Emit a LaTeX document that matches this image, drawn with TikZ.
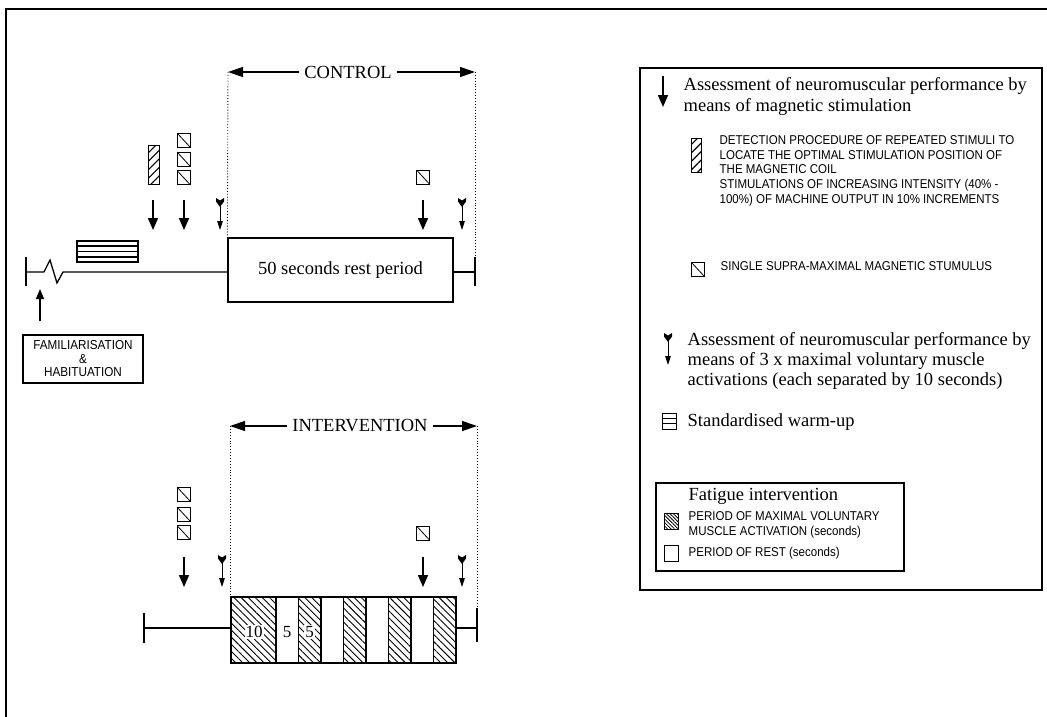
\documentclass[tikz,border=0pt]{standalone}
\usepackage{fontspec}
\setmainfont{Liberation Serif}
\setsansfont{Liberation Sans}
\newfontfamily\capsfont{Liberation Sans}[FakeStretch=0.9]
\usetikzlibrary{arrows.meta,patterns.meta,positioning}

\begin{document}
\begin{tikzpicture}[x=1pt, y=-1pt, line width=1.3pt,
  serif/.style={font=\fontsize{18.5}{21}\selectfont, inner sep=0pt},
  caps/.style={font=\capsfont\fontsize{12.8}{14.7}\selectfont, inner sep=0pt},
  magarrow/.style={line width=1.7pt, -{Triangle[width=10pt,length=12pt]}},
  vol/.pic={
    \fill (-4,0) -- (0,2.5) -- (4,0) -- (4,3.5) -- (0,9) -- (-4,3.5) -- cycle;
    \draw[line width=1pt, -{Triangle[width=5.5pt,length=9pt]}] (0,6) -- (0,32);},
  span/.style={-{Triangle[width=10pt,length=15pt]}},
  guide/.style={dotted, line width=0.9pt},
  stim/.style={draw, line width=1pt, minimum width=13pt, minimum height=14pt, inner sep=0pt,
    path picture={\draw[line width=0.8pt] (path picture bounding box.north west) -- (path picture bounding box.south east);}},
  probe/.style={draw, line width=1pt, inner sep=0pt, pattern={Lines[angle=45,distance=6pt,line width=1.1pt]}},
  work/.style={draw, pattern={Lines[angle=-45,distance=5pt,line width=0.9pt]}},
  lab/.style={fill=white, inner sep=1pt, font=\fontsize{17}{17}\selectfont}]
  \useasboundingbox (0,0) rectangle (1047,717);

  % 1. 外框 (只有上边与左边)
  \draw[line width=1.4pt] (6,717) -- (6,9) -- (1047,9);

  % 2. CONTROL 时间线
  \node[serif, inner xsep=5pt] (ctl) at (348,72) {CONTROL};
  \coordinate (ctlL) at (228,72);
  \coordinate (ctlR) at (475,72);
  \draw[span] (ctl) -- (ctlL);
  \draw[span] (ctl) -- (ctlR);
  \node[draw, serif, minimum width=225pt, minimum height=64pt] (rest) at (340.5,270) {50 seconds rest period};
  \coordinate (tA) at (26,272);
  \coordinate (tB) at (475,272);
  \draw (26,257) -- (26,286);
  \draw (475,257) -- (475,286);
  \draw (tA) -- (44,272) -- (50,260) -- (57,283) -- (63,272) -- (tA -| rest.west);
  \draw (tB -| rest.east) -- (tB);
  \draw[guide] (ctlL) -- (rest.north west);
  \draw[guide] (ctlR) -- (475,257);

  % 3. 准备活动与熟悉阶段
  \draw (77,241) rectangle (138,262);
  \foreach \y in {246,251.5,257} \draw (77,\y) -- (138,\y);
  \node[draw, minimum width=120pt, minimum height=48pt, align=center, inner sep=0pt,
        font=\capsfont\fontsize{13}{13.5}\selectfont] (fam) at (83,359) {FAMILIARISATION\\\&\\HABITUATION};
  \coordinate (famtail) at (40,321);
  \draw[-{Triangle[width=8pt,length=10pt]}] (famtail) -- (40,289);

  % 4. 刺激符号与箭头 (CONTROL)
  \node[probe, minimum width=11pt, minimum height=39pt] (pr) at (153.5,164.5) {};
  \foreach \y [count=\i] in {140,159,177.5} \node[stim] (cs\i) at (183.5,\y) {};
  \node[stim] (cs4) at (423,177) {};
  \foreach \x in {153,184,423} \draw[magarrow] (\x,200) -- (\x,230);
  \foreach \x in {220,462} \pic at (\x,198) {vol};

  % 5. INTERVENTION 时间线
  \node[serif, inner xsep=5pt] (itv) at (360,426) {INTERVENTION};
  \coordinate (itvL) at (230,426);
  \coordinate (itvR) at (477,426);
  \draw[span] (itv) -- (itvL);
  \draw[span] (itv) -- (itvR);
  \draw (144,613) -- (144,643);
  \draw (477,608) -- (477,642);
  \draw (144,628) -- (231,628);
  \draw (456,628) -- (477,628);
  \draw[work] (231,597) rectangle (276,663);
  \foreach \a in {276,321,366,411} {
    \draw (\a,597) rectangle ({\a+22.5},663);
    \draw[work] ({\a+22.5},597) rectangle ({\a+45},663);
  }
  \node[lab] (n10) at (254,632) {10};
  \node[lab] (n5a) at (287,632) {5};
  \node[lab] (n5b) at (309.5,632) {5};
  \draw[guide] (itvL) -- (230,597);
  \draw[guide] (itvR) -- (477,608);

  % 6. 刺激符号与箭头 (INTERVENTION)
  \foreach \y [count=\i] in {494,514,532.5} \node[stim] (is\i) at (183.5,\y) {};
  \node[stim] (is4) at (423,533) {};
  \foreach \x in {184,423} \draw[magarrow] (\x,557) -- (\x,587);
  \foreach \x in {222,462} \pic at (\x,555) {vol};

  % 7. 图例
  \draw (640,68) rectangle (1042,590);
  \draw[magarrow] (663,76) -- (663,107);
  \node[serif, anchor=north west, align=left] (lg1) at (683,77)
    {Assessment of neuromuscular performance by\\means of magnetic stimulation};
  \node[probe, minimum width=10pt, minimum height=34pt] (lgpr) at (696,155) {};
  \node[caps, anchor=north west, align=left] (lg2) at (719,135)
    {DETECTION PROCEDURE OF REPEATED STIMULI TO\\LOCATE THE OPTIMAL STIMULATION POSITION OF\\THE MAGNETIC COIL\\STIMULATIONS OF INCREASING INTENSITY (40\% -\\100\%) OF MACHINE OUTPUT IN 10\% INCREMENTS};
  \node[stim] (lgst) at (698,269.5) {};
  \node[caps, anchor=west] (lg3) at (720,266) {SINGLE SUPRA-MAXIMAL MAGNETIC STUMULUS};
  \pic at (668,333) {vol};
  \node[serif, anchor=north west, align=left, font=\fontsize{18.5}{20}\selectfont] (lg4) at (687,332)
    {Assessment of neuromuscular performance by\\means of 3 x maximal voluntary muscle\\activations (each separated by 10 seconds)};
  \draw[line width=1pt] (662,413) rectangle (676,429);
  \foreach \y in {418,423} \draw[line width=1pt] (662,\y) -- (676,\y);
  \node[serif, anchor=west] (lg5) at (687,422) {Standardised warm-up};

  % 8. 疲劳干预小图例
  \draw (656,483) rectangle (904,571);
  \node[serif, anchor=west] (lg6) at (688,496) {Fatigue intervention};
  \draw[line width=1pt, pattern={Lines[angle=-45,distance=2.5pt,line width=0.8pt]}] (664,513) rectangle (678,529);
  \node[caps, anchor=west, align=left, font=\capsfont\fontsize{12.8}{15.5}\selectfont] (lg7) at (688,525)
    {PERIOD OF MAXIMAL VOLUNTARY\\MUSCLE ACTIVATION (seconds)};
  \draw[line width=1pt] (664,545) rectangle (678,561);
  \node[caps, anchor=west] (lg8) at (688,553) {PERIOD OF REST (seconds)};
\end{tikzpicture}
\end{document}
